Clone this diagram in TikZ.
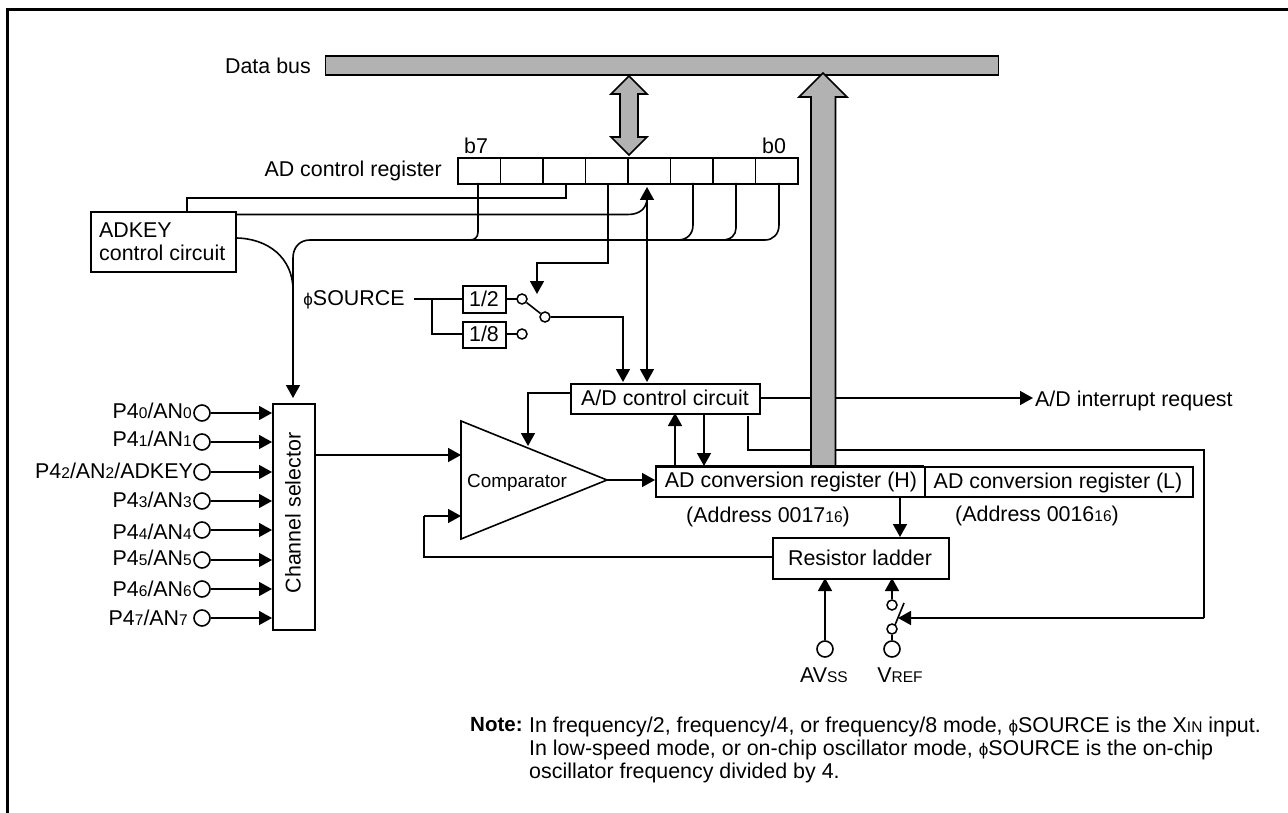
\documentclass[tikz,border=0pt]{standalone}
\usepackage{fontspec}
\setmainfont{Liberation Sans}
\usetikzlibrary{arrows.meta}
\newcommand{\sm}[1]{{\fontsize{15.5}{15.5}\selectfont #1}}
\newcommand{\phisym}{{\fontsize{17}{17}\selectfont ϕ}}
\definecolor{busgray}{HTML}{B2B2B2}
\tikzset{
  x=1pt,y=-1pt,
  wire/.style={line width=1.6pt,draw=black},
  tipped/.style={wire,-{Triangle[length=13pt,width=14pt]}},
  box/.style={draw=black,line width=1.7pt,fill=white,inner sep=0pt,anchor=north west},
  lab/.style={inner sep=0pt,font=\fontsize{21.4}{23}\selectfont},
  pad/.style={circle,draw=black,line width=1.6pt,fill=white,inner sep=0pt,minimum size=16pt},
  tiny/.style={circle,draw=black,line width=1.5pt,fill=white,inner sep=0pt,minimum size=10pt},
  bus/.style={draw=black,line width=1.6pt,fill=busgray},
}
\begin{document}
\begin{tikzpicture}
\useasboundingbox (0,0) rectangle (1288,813);
% frame
\draw[line width=3pt] (7.5,813) -- (7.5,9.5) -- (1288,9.5);
% data bus
\node[bus,anchor=north west,minimum width=673pt,minimum height=19.5pt,inner sep=0pt] (databus) at (324.5,55) {};
\node[lab,anchor=east] (dblabel) at (311,66) {Data bus};
% double arrow
\draw[bus] (629,76) -- (647,94) -- (638,94) -- (638,137) -- (647,137) -- (629,155) -- (611,137) -- (620,137) -- (620,94) -- (611,94) -- cycle;
% register
\foreach \i in {0,...,7}{
  \node[box,minimum width=42.5pt,minimum height=26pt] (r\i) at ({457+42.5*\i},157) {};
}
\node[lab,anchor=east] (regl) at (442,171) {AD control register};
\node[lab] (b7) at (476,146) {b7};
\node[lab] (b0) at (774,146) {b0};
% boxes
\node[box,minimum width=145pt,minimum height=60pt] (adkey) at (90,211) {};
\node[lab,anchor=west,align=left] (adkeyt) at (99,242) {ADKEY\\control circuit};
\node[box,minimum width=42pt,minimum height=226pt] (chan) at (272,403) {};
\node[lab,rotate=90] (chant) at (293,513) {Channel selector};
\node[box,minimum width=43pt,minimum height=27pt] (d2) at (462,285) {};
\node[lab] (d2t) at (484,299) {1/2};
\node[box,minimum width=43pt,minimum height=26pt] (d8) at (462,321) {};
\node[lab] (d8t) at (484,334) {1/8};
\node[box,minimum width=189pt,minimum height=30pt] (adc) at (570,383) {};
\node[lab] (adct) at (665,398) {A/D control circuit};
\node[box,minimum width=269pt,minimum height=30pt] (regh) at (655,466) {};
\node[lab] (reght) at (791,482) {AD conversion register (H)};
\node[box,minimum width=268pt,minimum height=30pt] (regb) at (924,466) {};
\node[lab] (reglt) at (1058,483) {AD conversion register (L)};
\node[lab] (a17) at (768,517) {(Address 0017\sm{16})};
\node[lab] (a16) at (1037,516) {(Address 0016\sm{16})};
\node[box,minimum width=176pt,minimum height=41pt] (rl) at (772,537) {};
\node[lab] (rlt) at (860,558) {Resistor ladder};
% comparator
\draw[bus,fill=white] (461,421) -- (607,480) coordinate (ctip) -- (461,539) -- cycle;
\node[lab,font=\fontsize{18.9}{20}\selectfont] (cmp) at (517,483) {Comparator};
% control wires
\coordinate (c1) at (187,198); \coordinate (c2) at (566,198);
\draw[wire] (566,183) -- (c2) -- (c1) -- (187,211);
\draw[wire] (235,214.5) -- (628,214.5) .. controls (640,214.5) and (647,208) .. (647,198);
\draw[wire] (235,238) .. controls (268,238) and (293,258) .. (293,290);
\draw[tipped] (310,240) .. controls (300,240) and (293,247) .. (293,258) -- (293,398);
\draw[wire] (310,240) -- (765,240) .. controls (773,240) and (779,234) .. (779,225) -- (779,183);
\draw[wire] (478,183) -- (478,232) .. controls (478,237) and (475,240) .. (470,240);
\draw[wire] (693,183) -- (693,225) .. controls (693,234) and (687,240) .. (678,240);
\draw[wire] (736,183) -- (736,228) .. controls (736,235) and (731,240) .. (722,240);
\draw[tipped] (608,183) -- (608,263) -- (537,263) -- (537,294);
\draw[wire,{Triangle[length=13pt,width=14pt]}-{Triangle[length=13pt,width=14pt]}] (647,187) -- (647,382);
% source switch
\node[lab] (phi) at (354,300) {\phisym SOURCE};
\draw[wire] (414,299) -- (462,299);
\draw[wire] (432,299) |- (462,334);
\draw[wire] (505,299) -- (517,299);
\draw[wire] (505,334) -- (517,334);
\node[tiny] (s2) at (522,299) {};
\node[tiny] (s8) at (522,334) {};
\node[tiny] (sc) at (545,317) {};
\draw[wire] (s2) -- (sc);
\draw[tipped] (sc) -- (623,317) -- (623,382);
% adc wires
\draw[tipped] (570,393) -- (528,393) -- (528,446);
\draw[tipped] (759,398) -- (1033,398);
\draw[wire] (748,416) -- (748,450) -- (1204,450) -- (1204,618);
\draw[tipped] (1204,618) -- (898,618);
\draw[tipped] (675,466) -- (675,413);
\draw[tipped] (704,413) -- (704,466);
\draw[tipped] (ctip) -- (655,480);
\draw[tipped] (900,496) -- (900,537);
\draw[wire] (772,557) -- (424,557) -- (424,516);
\draw[tipped] (424,516) -- (461,516);
\draw[tipped] (314,455) -- (461,455);
% data arrow on top
\draw[bus] (823,73) -- (847,97) -- (835.5,97) -- (835.5,466) -- (811,466) -- (811,97) -- (799,97) -- cycle;
\draw[line width=1.7pt] (655,466) -- (924,466);
\node[lab,anchor=west] (irq) at (1035,401) {A/D interrupt request};
% inputs
\foreach \y/\ty/\d in {413/411/0,442/439/1,501/500/3,530/532/4,560/558/5,589/589/6}{
  \node[pad] (p\y) at (202,\y) {};
  \draw[tipped] (p\y) -- (272,\y);
  \node[lab,anchor=east] (pt\y) at (192,\ty) {P4\sm{\d}/AN\sm{\d}};
}
\node[pad] (p472) at (202,472) {};
\draw[tipped] (p472) -- (272,472);
\node[lab,anchor=east] (pt472) at (193,471) {P4\sm{2}/AN\sm{2}/ADKEY};
\node[pad] (p618) at (202,618) {};
\draw[tipped] (p618) -- (272,618);
\node[lab,anchor=east] (pt618) at (188,618) {P4\sm{7}/AN\sm{7}};
% ladder
\node[pad] (avss) at (825,649) {};
\node[pad] (vref) at (892,649) {};
\draw[tipped] (avss) -- (825,578);
\node[tiny] (sw1) at (892,605) {};
\node[tiny] (sw2) at (892,629) {};
\draw[wire] (vref) -- (sw2);
\draw[tipped] (sw1) -- (892,578);
\draw[wire] (904,603) -- (895,625);
\node[lab] (avt) at (824,675) {AV\sm{SS}};
\node[lab] (vrt) at (900,675) {V\sm{REF}};
% note
\node[lab,anchor=north west,font=\bfseries\fontsize{20.5}{23}\selectfont] (note) at (470,717) {Note:};
\node[lab,anchor=north west,align=left] (notet) at (529,717) {In frequency/2, frequency/4, or frequency/8 mode, \phisym SOURCE is the X\sm{IN} input.\\In low-speed mode, or on-chip oscillator mode, \phisym SOURCE is the on-chip\\oscillator frequency divided by 4.};
\end{tikzpicture}
\end{document}
